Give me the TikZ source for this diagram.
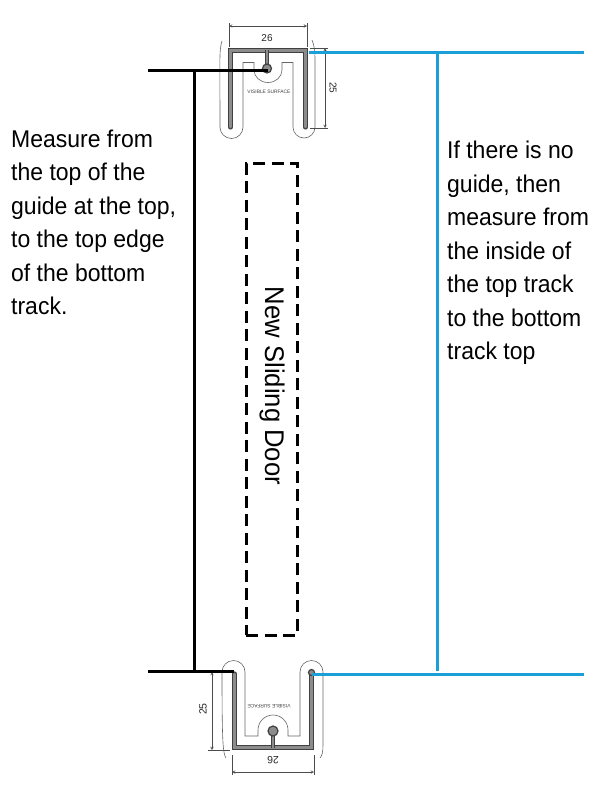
\documentclass[tikz,border=0pt]{standalone}
\usepackage{fontspec}
\setmainfont{Liberation Sans}
\newfontfamily\notefont[FakeStretch=0.95]{Liberation Sans}
\usepackage{xcolor}
\usetikzlibrary{arrows, positioning}
\definecolor{trackblue}{HTML}{1A9FD6}
\tikzstyle{note} = [inner sep=0pt, align=left, anchor=north west, font=\notefont\fontsize{24.2}{33.5}\selectfont]
\tikzstyle{dimtext} = [inner sep=0pt, font=\fontsize{10}{11}\selectfont, text=black!85]
\tikzstyle{surface} = [inner sep=0pt, font=\fontsize{4.9}{5}\selectfont, text=black!75]
\tikzstyle{channel} = [draw=black!75, line width=1.2pt, double=black!45, double distance=2.8pt, line cap=round]
\tikzstyle{stem} = [draw=black!75, line width=1pt, double=black!45, double distance=1.6pt]
\tikzstyle{bead} = [circle, draw=black!75, fill=black!45, line width=1.2pt, inner sep=0pt, minimum size=9pt]
\tikzstyle{seal} = [draw=black!60, line width=0.6pt]
\tikzstyle{dimline} = [draw=black!70, line width=0.5pt]
\tikzstyle{dimarrow} = [dimline, <->, >=stealth]
\tikzstyle{blackline} = [draw=black, line width=3pt]
\tikzstyle{blueline} = [draw=trackblue, line width=3pt]

\begin{document}
\begin{tikzpicture}[x=1pt, y=-1pt]
\useasboundingbox (0,0) rectangle (600,800);

% Top guide
\draw[seal] (222,41) .. controls (219,50) and (220,60) .. (220,127) arc[start angle=180, end angle=0, radius=11.5] -- (243,62.5) -- (254,62.5) -- (254,70) arc[start angle=180, end angle=0, x radius=14, y radius=12.5] -- (282,62.5) -- (293,62.5) -- (293,127) arc[start angle=180, end angle=0, radius=11] -- (315,60) .. controls (315,50) and (314,45) .. (312,40);
\draw[channel] (230.5,127) -- (230.5,50.5) -- (305.5,50.5) -- (305.5,127);
\draw[stem] (267,50) -- (267,65);
\node (top-bead) [bead] at (267,68.5) {};
\node (top-surface) [surface] at (269,92) {VISIBLE SURFACE};

% Top dimensions
\coordinate (top-w-a) at (229,26);
\coordinate (top-w-b) at (307,26);
\coordinate (top-h-a) at (325,48);
\coordinate (top-h-b) at (325,128);
\draw[dimline] (229,23) -- (229,47);
\draw[dimline] (307,23) -- (307,47);
\draw[dimline] (310,48) -- (328,48);
\draw[dimline] (310,128) -- (328,128);
\draw[dimarrow] (top-w-a) -- (top-w-b);
\draw[dimarrow] (top-h-a) -- (top-h-b);
\node (top-width) [dimtext] at (267,38) {26};
\node (top-height) [dimtext, rotate=-90] at (333,88) {25};

% Bottom track
\draw[seal] (226,758) .. controls (223,753) and (222,745) .. (222,672) arc[start angle=180, end angle=360, radius=11.5] -- (245,736) -- (258,736) -- (258,730) arc[start angle=180, end angle=360, radius=15] -- (288,736) -- (300,736) -- (300,672) arc[start angle=180, end angle=360, radius=11.5] -- (323,745) .. controls (323,752) and (322,756) .. (320,758);
\draw[channel] (234.5,674) -- (234.5,747.5) -- (311.5,747.5) -- (311.5,674);
\draw[stem] (273,748) -- (273,735);
\node (bot-bead) [bead, minimum size=10pt] at (273,731) {};
\node (bot-end) [bead, minimum size=6pt] at (311.5,672.5) {};
\node (bot-surface) [surface, rotate=180] at (269,706) {VISIBLE SURFACE};

% Bottom dimensions
\coordinate (bot-h-a) at (212,672);
\coordinate (bot-h-b) at (212,750);
\coordinate (bot-w-a) at (232,772);
\coordinate (bot-w-b) at (314,772);
\draw[dimline] (208,672) -- (231,672);
\draw[dimline] (208,750) -- (230,750);
\draw[dimline] (232,755) -- (232,775);
\draw[dimline] (314,755) -- (314,775);
\draw[dimarrow] (bot-h-a) -- (bot-h-b);
\draw[dimarrow] (bot-w-a) -- (bot-w-b);
\node (bot-height) [dimtext, rotate=90, font=\fontsize{10.5}{12}\selectfont] at (203,709) {25};
\node (bot-width) [dimtext, rotate=180, font=\fontsize{10.5}{12}\selectfont] at (273,760) {26};

% Door
\node (door) [draw=black, line width=3pt, dash pattern=on 12pt off 6.5pt, minimum width=51pt, minimum height=472pt, inner sep=0pt] at (271.8,399.3) {};
\node (door-label) [inner sep=0pt, rotate=-90, font=\notefont\fontsize{27}{28}\selectfont] at (272,386) {New Sliding Door};

% Black measure
\coordinate (black-top-start) at (148,70.5);
\coordinate (black-top-end) at (268,70.5);
\coordinate (black-top) at (194,70.5);
\coordinate (black-bot-start) at (148,671);
\coordinate (black-bot-end) at (234,671);
\coordinate (black-bot) at (194,671);
\draw[blackline] (black-top-start) -- (black-top-end);
\draw[blackline] (black-bot-start) -- (black-bot-end);
\draw[blackline] (black-top) -- (black-bot);

% Blue measure
\coordinate (blue-top-start) at (309,53);
\coordinate (blue-top-end) at (584,53);
\coordinate (blue-top) at (437,53);
\coordinate (blue-bot-start) at (312,674);
\coordinate (blue-bot-end) at (584,674);
\coordinate (blue-bot) at (437,671);
\draw[blueline] (blue-top-start) -- (blue-top-end);
\draw[blueline] (blue-bot-start) -- (blue-bot-end);
\draw[blueline] (blue-top) -- (blue-bot);

% Notes
\node (left-note) [note] at (11,129.5) {Measure from\\the top of the\\guide at the top,\\to the top edge\\of the bottom\\track.};
\node (right-note) [note] at (447,141) {If there is no\\guide, then\\measure from\\the inside of\\the top track\\to the bottom\\track top};

\end{tikzpicture}
\end{document}
